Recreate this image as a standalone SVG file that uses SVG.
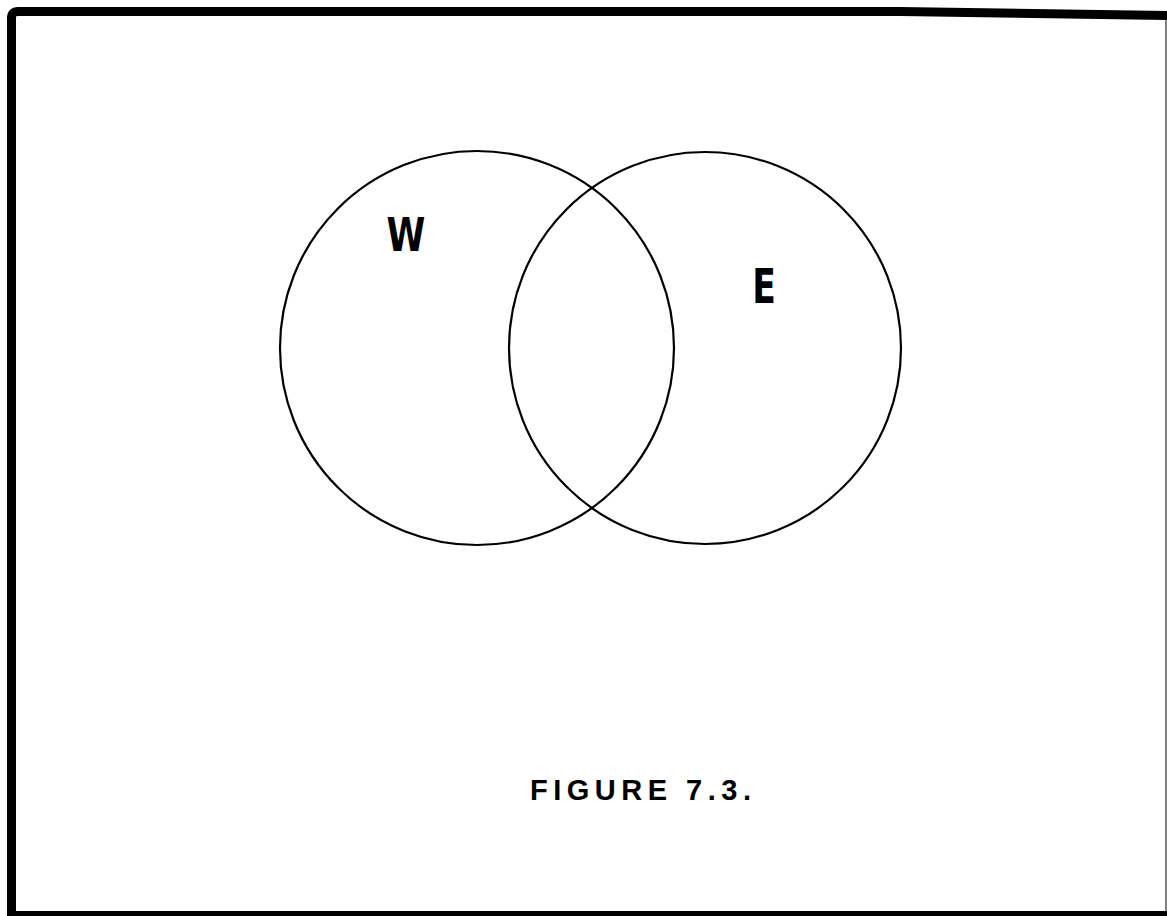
<svg xmlns="http://www.w3.org/2000/svg" width="1167" height="916" viewBox="0 0 1167 916">
<style>
.c{fill:none;stroke:#000;stroke-width:2.2}
.lbl{font-family:"DejaVu Sans Condensed","Liberation Sans Narrow",sans-serif;font-weight:bold;fill:#000}
.cap{font-family:"Liberation Sans",Arial,sans-serif;font-weight:bold;fill:#000;letter-spacing:5.5px}
</style>
<rect width="1167" height="916" fill="#fff"/>
<g id="frame">
<path d="M11.5,916 V18 Q11.5,11.5 18,11.5 H900 L1167,15.5" fill="none" stroke="#000" stroke-width="9"/>
<path d="M1166,20 V916" fill="none" stroke="#000" stroke-width="1"/>
<path d="M11,913.5 H1167" fill="none" stroke="#000" stroke-width="5"/>
</g>
<g id="W">
<circle class="c" cx="477" cy="348" r="197"/>
<text class="lbl" x="406" y="251" font-size="46" text-anchor="middle" transform="translate(406 0) scale(0.85 1) translate(-406 0)">W</text>
</g>
<g id="E">
<circle class="c" cx="705" cy="348" r="196"/>
<text class="lbl" x="764" y="303" font-size="48" text-anchor="middle" transform="translate(764 0) scale(0.8 1) translate(-764 0)">E</text>
</g>
<g id="caption">
<text class="cap" x="530" y="800" font-size="29">FIGURE 7.3.</text>
</g>
</svg>
